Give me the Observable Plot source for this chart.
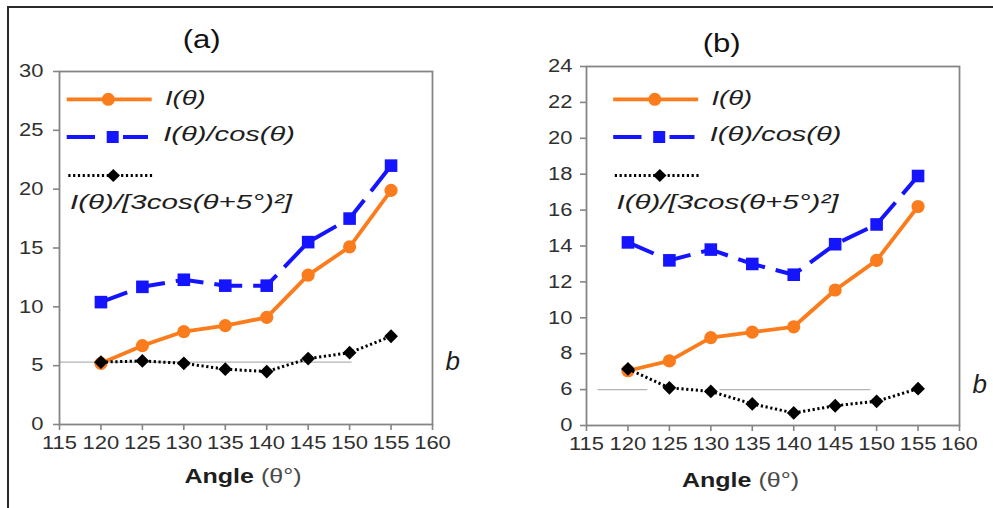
<!DOCTYPE html>
<html>
<head>
<meta charset="utf-8">
<script src="https://cdn.jsdelivr.net/npm/d3@7"></script>
<script src="https://cdn.jsdelivr.net/npm/@observablehq/plot@0.6"></script>
<style>
  html, body { margin: 0; padding: 0; background: #fff; }
  #wrap { position: relative; width: 993px; height: 508px; overflow: hidden; background: #fff; }
  #border { position: absolute; left: 7px; top: 6px; right: -5px; bottom: -5px;
            border-top: 2px solid #2a2a2a; border-left: 2px solid #2a2a2a; }
  .panel { position: absolute; top: 0; }
  #pa { left: 0; }
  #pb { left: 497px; }
  #overlay { position: absolute; left: 0; top: 0; pointer-events: none; }
</style>
</head>
<body>
<div id="wrap">
  <div id="border"></div>
  <div id="pa" class="panel"></div>
  <div id="pb" class="panel"></div>
  <svg id="overlay" width="993" height="508" xmlns="http://www.w3.org/2000/svg"></svg>
</div>
<script>
// ---------- data ----------
const angles = [120, 125, 130, 135, 140, 145, 150, 155];
const xTicks = [115, 120, 125, 130, 135, 140, 145, 150, 155, 160];

// panel (a)
const aI     = [5.2, 6.7, 7.9, 8.4, 9.1, 12.7, 15.1, 19.9];
const aIcos  = [10.4, 11.7, 12.3, 11.8, 11.8, 15.5, 17.5, 22.0];
const aI3cos = [5.3, 5.4, 5.2, 4.7, 4.5, 5.6, 6.1, 7.5];
const aYTicks = [0, 5, 10, 15, 20, 25, 30];
const aBaseline = 5.3;
const aBaseRules = [{x1: 115, x2: 150.3, y: 5.3}];

// panel (b)
const bI     = [7.05, 7.6, 8.9, 9.2, 9.5, 11.55, 13.2, 16.2];
const bIcos  = [14.2, 13.2, 13.8, 13.0, 12.4, 14.1, 15.2, 17.9];
const bI3cos = [7.15, 6.1, 5.9, 5.2, 4.7, 5.1, 5.35, 6.05];
const bYTicks = [4, 6, 8, 10, 12, 14, 16, 18, 20, 22, 24];
const bYTickLabels = ["0", "6", "8", "10", "12", "14", "16", "18", "20", "22", "24"];
const bBaseline = 6.0;
const bBaseRules = [{x1: 116.4, x2: 122.4, y: 6.0}, {x1: 131.1, x2: 149.3, y: 6.0}];

const titles = ["(a)", "(b)"];
const seriesNames = ["I(θ)", "I(θ)/cos(θ)", "I(θ)/[3cos(θ+5°)²]"];
const xLabelMain = "Angle";
const xLabelUnit = " (θ°)";
const baselineLabel = "b";

// ---------- style ----------
const ORANGE = "#fb7c1c";
const BLUE = "#1414ff";
const BLACK = "#000000";
const AXIS = "#858585";
const FONT = "'Liberation Sans', Arial, sans-serif";

function rowsOf(I, Icos, I3) {
  return angles.map((a, i) => ({angle: a, I: I[i], Icos: Icos[i], I3: I3[i]}));
}

function panel(cfg) {
  const rows = rowsOf(cfg.I, cfg.Icos, cfg.I3);
  return Plot.plot({
    width: 496, height: 508,
    marginLeft: cfg.ml, marginRight: cfg.mr, marginTop: cfg.mt, marginBottom: cfg.mb,
    style: {fontFamily: FONT, fontSize: "18px", color: "#333", background: "transparent", overflow: "visible"},
    x: {domain: [115, 160], ticks: xTicks, tickSize: 6, tickPadding: 6, label: null},
    y: {domain: cfg.yDomain, ticks: cfg.yTicks, tickFormat: cfg.yFormat, tickSize: 6, tickPadding: cfg.yPad, label: null},
    marks: [
      Plot.ruleY(cfg.baseRules, {y: "y", x1: "x1", x2: "x2", stroke: "#b4b4b4", strokeWidth: 1.2}),
      Plot.frame({stroke: AXIS, strokeWidth: 1.8}),
      Plot.line(rows, {x: "angle", y: "I", stroke: ORANGE, strokeWidth: 3.8}),
      Plot.dot(rows, {x: "angle", y: "I", r: 6.6, fill: ORANGE, symbol: "circle"}),
      Plot.line(rows, {x: "angle", y: "Icos", stroke: BLUE, strokeWidth: 4, strokeDasharray: "28,11", strokeLinecap: "butt"}),
      Plot.dot(rows, {x: "angle", y: "Icos", r: 7.1, fill: BLUE, symbol: "square"}),
      Plot.line(rows, {x: "angle", y: "I3", stroke: BLACK, strokeWidth: 3, strokeDasharray: "2.2,2.6", strokeLinecap: "butt"}),
      Plot.dot(rows, {x: "angle", y: "I3", r: 6.2, fill: BLACK, symbol: "diamond2"}),
      Plot.text([cfg.baseline], {y: d => d, frameAnchor: "right", text: () => baselineLabel,
        dx: 13, dy: cfg.bDy, textAnchor: "start", lineAnchor: "middle",
        fontSize: 26, fontStyle: "italic", fill: "#1e1e1e"})
    ]
  });
}

const pa = panel({I: aI, Icos: aIcos, I3: aI3cos, yDomain: [0, 30], yTicks: aYTicks, yFormat: d => String(d),
  ml: 59, mr: 64, mt: 71, mb: 84, yPad: 10, baseRules: aBaseRules, baseline: aBaseline, bDy: 0});
const pb = panel({I: bI, Icos: bIcos, I3: bI3cos, yDomain: [4, 24], yTicks: bYTicks,
  yFormat: d => bYTickLabels[bYTicks.indexOf(d)],
  ml: 89, mr: 34, mt: 66, mb: 83, yPad: 8, baseRules: bBaseRules, baseline: bBaseline, bDy: -5});

document.getElementById("pa").appendChild(pa);
document.getElementById("pb").appendChild(pb);

// tick styling: gray ticks, horizontally widened labels (the figure is stretched)
for (const svg of [pa, pb]) {
  svg.querySelectorAll('[aria-label="x-axis tick"], [aria-label="y-axis tick"]').forEach(g => {
    g.setAttribute("stroke", AXIS); g.setAttribute("stroke-width", "1.6");
  });
  svg.querySelectorAll('[aria-label="x-axis tick label"] text, [aria-label="y-axis tick label"] text').forEach(t => {
    t.setAttribute("fill", "#303030");
    const w = t.getComputedTextLength();
    if (w > 0) { t.setAttribute("textLength", (w * 1.22).toFixed(1)); t.setAttribute("lengthAdjust", "spacingAndGlyphs"); }
  });
}

// ---------- overlay: titles, legends, x-axis labels ----------
const NS = "http://www.w3.org/2000/svg";
const ov = document.getElementById("overlay");
function el(name, attrs, parent) {
  const e = document.createElementNS(NS, name);
  for (const k in attrs) e.setAttribute(k, attrs[k]);
  (parent || ov).appendChild(e);
  return e;
}
function txt(s, attrs) { const t = el("text", attrs); t.textContent = s; return t; }

// titles
txt(titles[0], {x: 201.7, y: 48, "text-anchor": "middle", "font-family": FONT, "font-size": 26, fill: "#111", textLength: 38, lengthAdjust: "spacingAndGlyphs"});
txt(titles[1], {x: 721.7, y: 52, "text-anchor": "middle", "font-family": FONT, "font-size": 26, fill: "#111", textLength: 38, lengthAdjust: "spacingAndGlyphs"});

// x-axis labels
function xLabel(cx, by) {
  const t = el("text", {x: cx, y: by, "text-anchor": "middle", "font-family": FONT, "font-size": 20,
    textLength: 117, lengthAdjust: "spacingAndGlyphs"});
  const s1 = el("tspan", {"font-weight": "bold", fill: "#1e1e1e"}, t); s1.textContent = xLabelMain;
  const s2 = el("tspan", {fill: "#4a4a4a"}, t); s2.textContent = xLabelUnit;
}
xLabel(243, 483);
xLabel(740.5, 486.5);

// legends
function legend(ox) {
  // orange solid + circle
  el("line", {x1: ox + 66.7, x2: ox + 151.7, y1: 99.3, y2: 99.3, stroke: ORANGE, "stroke-width": 3.8});
  el("circle", {cx: ox + 108.3, cy: 99.3, r: 6.5, fill: ORANGE});
  // blue dashed + square
  el("line", {x1: ox + 66.7, x2: ox + 95, y1: 137, y2: 137, stroke: BLUE, "stroke-width": 4});
  el("line", {x1: ox + 123, x2: ox + 148, y1: 137, y2: 137, stroke: BLUE, "stroke-width": 4});
  el("rect", {x: ox + 112.7 - 6, y: 137 - 6, width: 12, height: 12, fill: BLUE});
  // black dotted + diamond
  el("line", {x1: ox + 68.3, x2: ox + 153.3, y1: 175.5, y2: 175.5, stroke: BLACK, "stroke-width": 3, "stroke-dasharray": "2.2,2.6"});
  el("path", {d: `M${ox + 113.3},${175.5 - 6.5}L${ox + 120},175.5L${ox + 113.3},${175.5 + 6.5}L${ox + 106.6},175.5Z`, fill: BLACK});
  const common = {"font-family": FONT, "font-style": "italic", "font-size": 21, fill: "#1e1e1e", lengthAdjust: "spacingAndGlyphs"};
  txt(seriesNames[0], Object.assign({x: ox + 165, y: 105, textLength: 40.7}, common));
  txt(seriesNames[1], Object.assign({x: ox + 163.3, y: 141, textLength: 131.7}, common));
  txt(seriesNames[2], Object.assign({x: ox + 70, y: 209, textLength: 222}, common));
}
legend(0);
legend(546.5);
</script>
</body>
</html>
